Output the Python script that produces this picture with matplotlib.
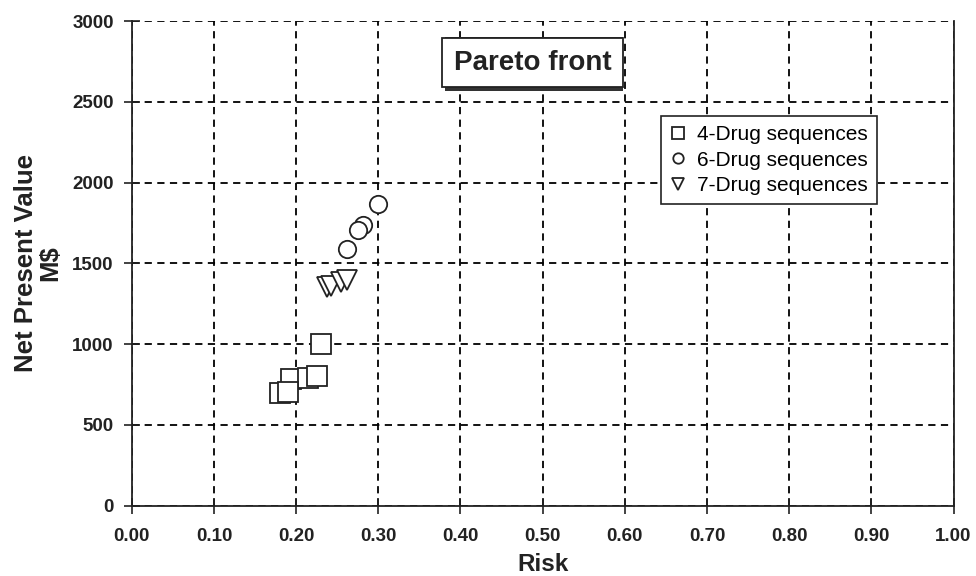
import numpy as np
import matplotlib.pyplot as plt
from matplotlib.patches import Rectangle

plt.rcParams['font.family'] = ['Liberation Sans', 'DejaVu Sans']

# Risk / NPV values
risk4 = [0.230, 0.194, 0.214, 0.226, 0.180, 0.190]
npv4 = [1000, 783, 791, 802, 695, 705]
risk6 = [0.300, 0.281, 0.275, 0.262]
npv6 = [1865, 1737, 1706, 1592]
risk7 = [0.237, 0.243, 0.255, 0.262]
npv7 = [1355, 1360, 1385, 1400]

xticks = np.arange(0, 1.01, 0.1)
yticks = np.arange(0, 3001, 500)

fig = plt.figure(figsize=(9.76, 5.76), dpi=100)
ax = fig.add_axes([0.135, 0.122, 0.842, 0.8415])

ax.plot(risk4, npv4, 's', ms=14, mfc='white', mec='#222222', mew=1.3, ls='none', label='4-Drug sequences')
ax.plot(risk6, npv6, 'o', ms=12.5, mfc='white', mec='#222222', mew=1.3, ls='none', label='6-Drug sequences')
ax.plot(risk7, npv7, 'v', ms=14, mfc='white', mec='#222222', mew=1.3, ls='none', label='7-Drug sequences')

ax.set_xlim(0, 1.0)
ax.set_ylim(0, 3000)
ax.set_xticks(xticks)
ax.set_yticks(yticks)
ax.set_xticklabels(['%.2f' % t for t in xticks])
ax.grid(True, color='black', ls=(0, (4, 3)), lw=1.3)
ax.set_axisbelow(True)
ax.spines['top'].set_visible(False)
for s in ['left', 'bottom', 'right']:
    ax.spines[s].set_linewidth(1.3)
    ax.spines[s].set_color('#222222')
ax.tick_params(direction='inout', length=12, width=1.2, labelsize=13.5, colors='#222222')
ax.tick_params(axis='x', pad=10)
ax.tick_params(axis='y', pad=7)
for lab in ax.get_xticklabels() + ax.get_yticklabels():
    lab.set_fontweight('bold')

ax.set_xlabel('Risk', fontsize=17.5, fontweight='bold', labelpad=6, color='#222222')
ax.set_ylabel('Net Present Value\nM$', fontsize=18.5, fontweight='bold', labelpad=7,
              linespacing=1.0, color='#222222')

# title box with a small drop shadow
ax.text(0.4875, 0.914, 'Pareto front', transform=ax.transAxes, ha='center', va='center',
        fontsize=20, fontweight='bold', color='#222222', zorder=5,
        bbox=dict(boxstyle='square,pad=0.42', fc='white', ec='#222222', lw=1.3))
ax.add_patch(Rectangle((0.3816, 0.855), 0.2165, 0.112, transform=ax.transAxes,
                       fc='#333333', ec='none', zorder=4))

leg = ax.legend(loc='upper right', bbox_to_anchor=(0.907, 0.804), fontsize=15, markerscale=0.6,
                frameon=True, fancybox=False, edgecolor='#222222', framealpha=1,
                handlelength=0.8, handletextpad=0.5, borderpad=0.45, labelspacing=0.3,
                borderaxespad=0)
leg.get_frame().set_linewidth(1.2)

fig.savefig('out.png', dpi=100)
